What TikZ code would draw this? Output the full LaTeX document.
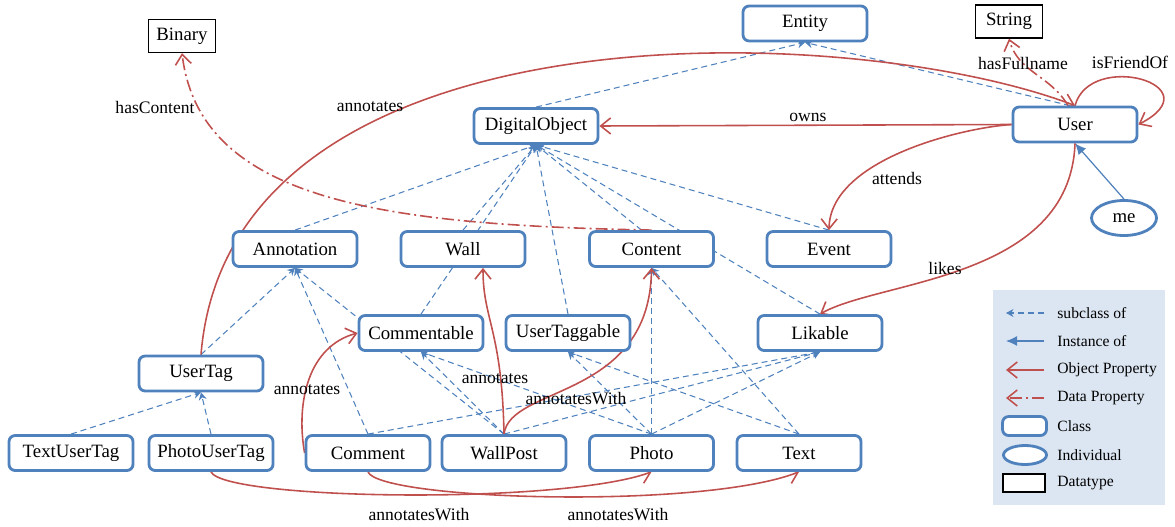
\documentclass[tikz,border=0pt]{standalone}
\usepackage{fontspec}
\setmainfont{Liberation Serif}
\usetikzlibrary{arrows.meta,shapes.geometric,backgrounds}
\definecolor{clsblue}{HTML}{4F81BD}
\definecolor{propred}{HTML}{C0504D}
\definecolor{legendbg}{HTML}{DCE6F2}
\newcommand{\nodefont}{\fontsize{10.7}{12}\selectfont}
\newcommand{\lblfont}{\fontsize{10}{12}\selectfont}
\newcommand{\legfont}{\fontsize{8.9}{10}\selectfont}

\begin{document}
\begin{tikzpicture}[
    cls/.style={draw=clsblue, line width=1.6pt, rounded corners=3.5pt, fill=white,
                minimum width=2.48cm, minimum height=0.70cm, font=\nodefont},
    dtype/.style={draw=black, line width=0.8pt, fill=white, minimum width=1.34cm,
                  minimum height=0.66cm, font=\nodefont},
    indiv/.style={ellipse, draw=clsblue, line width=1.6pt, fill=white,
                  minimum width=1.3cm, minimum height=0.7cm, inner sep=0pt, font=\nodefont},
    subcls/.style={-{Stealth[length=1.5mm,width=1.6mm]}, clsblue, line width=0.6pt,
                   dash pattern=on 1.2mm off 0.8mm},
    inst/.style={-{Latex[length=2.2mm,width=2mm]}, clsblue, line width=0.7pt},
    objprop/.style={-{Straight Barb[length=2mm,width=3.2mm]}, propred, line width=0.9pt},
    dataprop/.style={objprop, dash pattern=on 2.4mm off 0.8mm on 0.4mm off 0.8mm},
    lbl/.style={font=\lblfont, inner sep=1pt},
    legtext/.style={font=\legfont, anchor=west, inner sep=0pt}
]
  \useasboundingbox (0,0) rectangle (23.5,-10.54);

  % Datatypes
  \node[dtype] (Binary) at (3.64,-0.72) {Binary};
  \node[dtype] (String) at (20.18,-0.43) {String};

  % Classes, top to bottom
  \node[cls] (Entity) at (16.10,-0.47) {Entity};
  \node[cls] (DigitalObject) at (10.72,-2.52) {DigitalObject};
  \node[cls] (User) at (21.50,-2.49) {User};

  \node[cls] (Annotation) at (5.90,-4.98) {Annotation};
  \node[cls] (Wall) at (9.26,-4.98) {Wall};
  \node[cls] (Content) at (13.03,-4.98) {Content};
  \node[cls] (Event) at (16.58,-4.98) {Event};

  \node[cls] (Commentable) at (8.42,-6.66) {Commentable};
  \node[cls] (UserTaggable) at (11.36,-6.66) {UserTaggable};
  \node[cls] (Likable) at (16.40,-6.66) {Likable};
  \node[cls] (UserTag) at (4.02,-7.47) {UserTag};

  \node[cls] (TextUserTag) at (1.42,-9.06) {TextUserTag};
  \node[cls] (PhotoUserTag) at (4.22,-9.06) {PhotoUserTag};
  \node[cls] (Comment) at (7.36,-9.06) {Comment};
  \node[cls] (WallPost) at (10.08,-9.06) {WallPost};
  \node[cls] (Photo) at (13.03,-9.06) {Photo};
  \node[cls] (Text) at (15.98,-9.06) {Text};

  % Individual
  \node[indiv] (me) at (22.48,-4.36) {me};

  \begin{pgfonlayer}{background}
    % subclass of
    \draw[subcls] (DigitalObject.north) -- (Entity.south);
    \draw[subcls] ([xshift=-0.1cm]User.north) -- (Entity.south);
    \draw[subcls] (Annotation.north) -- (DigitalObject.south);
    \draw[subcls] (Wall.north) -- (DigitalObject.south);
    \draw[subcls] (Commentable.north) -- (DigitalObject.south);
    \draw[subcls] (UserTaggable.north) -- (DigitalObject.south);
    \draw[subcls] ([xshift=-0.2cm]Content.north) -- (DigitalObject.south);
    \draw[subcls] (Event.north) -- (DigitalObject.south);
    \draw[subcls] (Likable.north) -- (DigitalObject.south);
    \draw[subcls] (UserTag.north) -- (Annotation.south);
    \draw[subcls] (Comment.north) -- (Annotation.south);
    \draw[subcls] (WallPost.north) -- (Annotation.south);
    \draw[subcls] (WallPost.north) -- (Commentable.south);
    \draw[subcls] (Photo.north) -- (Commentable.south);
    \draw[subcls] (Photo.north) -- (UserTaggable.south);
    \draw[subcls] (Text.north) -- (UserTaggable.south);
    \draw[subcls] (Photo.north) -- (Content.south);
    \draw[subcls] (Text.north) -- (Content.south);
    \draw[subcls] (Comment.north) -- (Likable.south);
    \draw[subcls] (WallPost.north) -- (Likable.south);
    \draw[subcls] (Photo.north) -- (Likable.south);
    \draw[subcls] (TextUserTag.north) -- (UserTag.south);
    \draw[subcls] (PhotoUserTag.north) -- (UserTag.south);

    % instance of
    \draw[inst] (me.north) -- (User.south);

    % object properties
    \draw[objprop] (User.west) -- (DigitalObject.east);
    \draw[objprop] (User.west) .. controls (19.2,-2.56) and (16.6,-3.2) .. (Event.north);
    \draw[objprop] (User.south) .. controls (21.4,-5.6) and (17.6,-5.6) .. (Likable.north);
    \draw[objprop] (User.north) .. controls (21.8,-1.0) and (24.3,-1.7) .. (User.east);
    \draw[objprop] (UserTag.north) .. controls (4.6,0) and (17.0,-0.4) .. (User.north);
    \draw[objprop] (Comment.west) to[out=100,in=195] (Commentable.west);
    \draw[objprop] (WallPost.north) .. controls (10.04,-6.6) and (9.66,-6.4) .. ([xshift=0.4cm]Wall.south);
    \draw[objprop] (WallPost.north) .. controls (10.2,-7.7) and (13.0,-8.0) .. (Content.south);
    \draw[objprop] (PhotoUserTag.south) .. controls (4.5,-10.0) and (11.2,-10.1) .. (Photo.south);
    \draw[objprop] (Comment.south) .. controls (7.6,-10.0) and (14.0,-10.2) .. (Text.south);

    % data properties
    \draw[dataprop] ([xshift=-0.14cm]User.north) to[out=120,in=-75] (String.south);
    \draw[dataprop] (Content.north) .. controls (7.6,-4.5) and (4.0,-4.0) .. (Binary.south);
  \end{pgfonlayer}

  % property labels
  \node[lbl] (lOwns) at (16.16,-2.34) {owns};
  \node[lbl] (lAttends) at (17.94,-3.56) {attends};
  \node[lbl] (lLikes) at (18.90,-5.36) {likes};
  \node[lbl] (lFriend) at (22.60,-1.24) {isFriendOf};
  \node[lbl] (lFullname) at (20.46,-1.26) {hasFullname};
  \node[lbl] (lContent) at (3.10,-2.14) {hasContent};
  \node[lbl] (lAnnUser) at (7.40,-2.14) {annotates};
  \node[lbl] (lAnnComment) at (6.14,-7.80) {annotates};
  \node[lbl] (lAnnWall) at (9.90,-7.58) {annotates};
  \node[lbl] (lWithContent) at (11.52,-7.98) {annotatesWith};
  \node[lbl] (lWithPhoto) at (8.38,-10.30) {annotatesWith};
  \node[lbl] (lWithText) at (12.36,-10.30) {annotatesWith};

  % Legend
  \node[fill=legendbg, minimum width=3.44cm, minimum height=4.3cm, anchor=north west,
        inner sep=0pt] (legend) at (19.86,-5.8) {};
  \coordinate (lgSubR) at (20.88,-6.26);   \coordinate (lgSubL) at (20.12,-6.26);
  \coordinate (lgInstR) at (20.88,-6.82);  \coordinate (lgInstL) at (20.12,-6.82);
  \coordinate (lgObjR) at (20.88,-7.40);   \coordinate (lgObjL) at (20.12,-7.40);
  \coordinate (lgDataR) at (20.88,-7.96);  \coordinate (lgDataL) at (20.12,-7.96);
  \draw[subcls] (lgSubR) -- (lgSubL);
  \draw[inst] (lgInstR) -- (lgInstL);
  \draw[objprop] (lgObjR) -- (lgObjL);
  \draw[dataprop] (lgDataR) -- (lgDataL);
  \node[cls, minimum width=0.88cm, minimum height=0.38cm] (lgClass) at (20.49,-8.52) {};
  \node[indiv, minimum width=0.86cm, minimum height=0.38cm] (lgIndiv) at (20.50,-9.10) {};
  \node[dtype, minimum width=0.84cm, minimum height=0.36cm] (lgDtype) at (20.48,-9.66) {};
  \node[legtext] (tSub) at (21.14,-6.26) {subclass of};
  \node[legtext] (tInst) at (21.14,-6.82) {Instance of};
  \node[legtext] (tObj) at (21.14,-7.40) {Object Property};
  \node[legtext] (tData) at (21.14,-7.96) {Data Property};
  \node[legtext] (tClass) at (21.14,-8.52) {Class};
  \node[legtext] (tIndiv) at (21.14,-9.10) {Individual};
  \node[legtext] (tDtype) at (21.14,-9.66) {Datatype};
\end{tikzpicture}
\end{document}
